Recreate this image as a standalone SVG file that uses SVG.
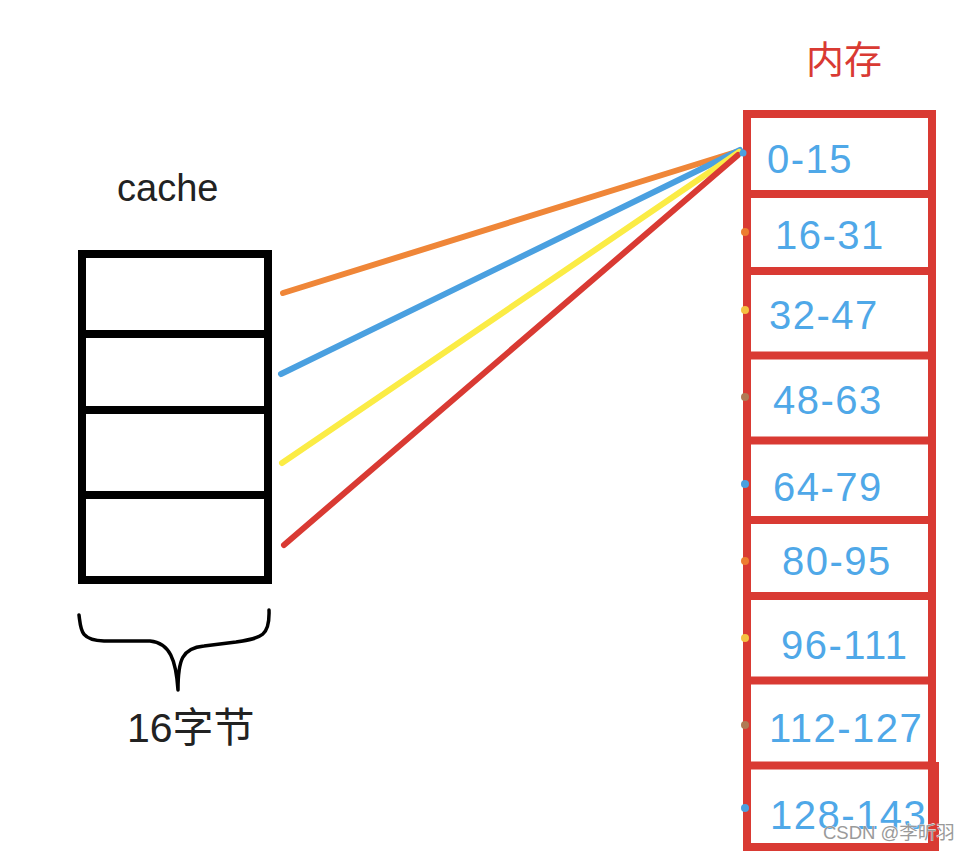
<svg xmlns="http://www.w3.org/2000/svg" width="969" height="851" viewBox="0 0 969 851">
<style>
.lbl{font-family:"Liberation Sans","Noto Sans CJK SC",sans-serif;fill:#222;font-size:38px}
.mem{font-family:"Liberation Sans",sans-serif;fill:#4fa8e8;font-size:40px;letter-spacing:1.5px}
.blk{fill:none;stroke:#000;stroke-width:8}
.red{fill:none;stroke:#d93a33;stroke-width:8}
.ln{stroke-width:6;stroke-linecap:round;fill:none}
</style>
<rect width="969" height="851" fill="#fff"/>
<g id="cache">
<text class="lbl" x="117" y="201">cache</text>
<rect class="blk" x="82" y="254" width="186" height="326"/>
<line class="blk" x1="82" y1="334" x2="268" y2="334"/>
<line class="blk" x1="82" y1="410" x2="268" y2="410"/>
<line class="blk" x1="82" y1="495" x2="268" y2="495"/>
<path d="M79,615 C81,630 80,640 104,641 L150,641 C170,643 176,660 178,690 C178,660 182,648 204,646 L236,642 C262,638 270,636 269,610" fill="none" stroke="#000" stroke-width="3.5" stroke-linecap="round" stroke-linejoin="round"/>
<text class="lbl" x="127" y="742" style="font-size:41px">16<tspan font-family="Noto Sans CJK SC,sans-serif">字节</tspan></text>
</g>
<g id="memory">
<text x="806" y="73" font-family="Noto Sans CJK SC,sans-serif" font-size="38" fill="#d93a33">内存</text>
<rect class="red" x="747" y="114" width="185" height="733"/>
<line class="red" x1="747" y1="194" x2="932" y2="194"/>
<line class="red" x1="747" y1="271" x2="932" y2="271"/>
<line class="red" x1="747" y1="355.5" x2="932" y2="355.5"/>
<line class="red" x1="747" y1="440.5" x2="932" y2="440.5"/>
<line class="red" x1="747" y1="520" x2="932" y2="520"/>
<line class="red" x1="747" y1="596" x2="932" y2="596"/>
<line class="red" x1="747" y1="680.5" x2="932" y2="680.5"/>
<line class="red" x1="747" y1="765.5" x2="936" y2="765.5"/>
<line class="red" x1="935" y1="762" x2="935" y2="851"/>
<text class="mem" x="767" y="173">0-15</text>
<text class="mem" x="775" y="249">16-31</text>
<text class="mem" x="769" y="329">32-47</text>
<text class="mem" x="773" y="414">48-63</text>
<text class="mem" x="773" y="501">64-79</text>
<text class="mem" x="782" y="575">80-95</text>
<text class="mem" x="781" y="659">96-111</text>
<text class="mem" x="769" y="742">112-127</text>
<text class="mem" x="770" y="829">128-143</text>
</g>
<g id="dots">
<circle cx="745" cy="232" r="4" fill="#ed7d31"/>
<circle cx="745" cy="310" r="4" fill="#f5c242"/>
<circle cx="745" cy="397" r="4" fill="#b07a55"/>
<circle cx="745" cy="484" r="4" fill="#4aa0e0"/>
<circle cx="745" cy="561" r="4" fill="#ed7d31"/>
<circle cx="745" cy="638" r="4" fill="#f5c242"/>
<circle cx="745" cy="725" r="4" fill="#b07a55"/>
<circle cx="745" cy="808" r="4" fill="#4aa0e0"/>
</g>
<g id="connectors">
<line class="ln" x1="283" y1="293" x2="736" y2="152" stroke="#ef8638"/>
<line class="ln" x1="281" y1="374" x2="740" y2="150" stroke="#4aa0e0"/>
<line class="ln" x1="282" y1="463" x2="739" y2="152" stroke="#fbec45"/>
<line class="ln" x1="284" y1="545" x2="738" y2="155" stroke="#d93a33"/>
<circle cx="743" cy="153" r="3.5" fill="#4aa0e0"/>
</g>
<text x="823" y="839" font-family="Liberation Sans,Noto Sans CJK SC,sans-serif" font-size="18.5" fill="#9a9a9a" stroke="#fff" stroke-width="0.6" paint-order="stroke">CSDN @李昕羽</text>
</svg>
